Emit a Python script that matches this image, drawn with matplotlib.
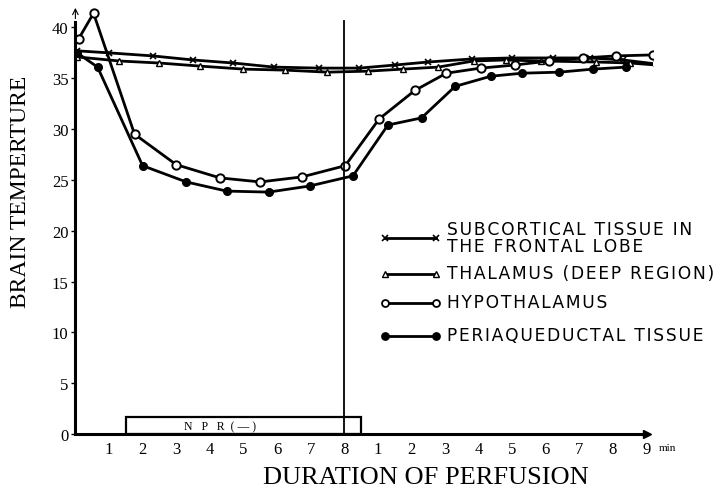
import matplotlib
matplotlib.use('Agg')
import matplotlib.pyplot as plt

# minutes on a continuous axis: 0-8 during perfusion, 9-17 = 1-9 min after
subcort_x = [0.05, 1.0, 2.3, 3.5, 4.7, 5.9, 7.25, 8.45, 9.5, 10.5, 11.8, 13.0, 14.2, 15.3, 16.3, 17.3]
subcort_y = [37.7, 37.5, 37.2, 36.8, 36.5, 36.1, 36.0, 36.0, 36.3, 36.6, 36.9, 37.0, 37.0, 37.0, 36.8, 36.4]

thal_x = [0.05, 1.3, 2.5, 3.7, 5.0, 6.25, 7.5, 8.7, 9.75, 10.8, 11.85, 12.8, 13.85, 15.5, 16.5, 17.3]
thal_y = [37.1, 36.7, 36.5, 36.2, 35.9, 35.8, 35.6, 35.7, 35.9, 36.1, 36.7, 36.8, 36.7, 36.6, 36.5, 36.3]

hypo_x = [0.1, 0.54, 1.76, 3.0, 4.3, 5.5, 6.75, 8.03, 9.04, 10.1, 11.04, 12.06, 13.07, 14.1, 15.1, 16.1, 17.2]
hypo_y = [38.9, 41.4, 29.5, 26.5, 25.2, 24.8, 25.3, 26.4, 31.0, 33.8, 35.5, 36.0, 36.3, 36.7, 37.0, 37.2, 37.3]

peri_x = [0.05, 0.66, 2.0, 3.3, 4.5, 5.75, 6.97, 8.26, 9.3, 10.3, 11.3, 12.36, 13.3, 14.4, 15.4, 16.4]
peri_y = [37.5, 36.1, 26.4, 24.8, 23.9, 23.8, 24.4, 25.4, 30.4, 31.1, 34.2, 35.2, 35.5, 35.6, 35.9, 36.1]

xtick_pos = list(range(1, 18))
xtick_labels = ['1', '2', '3', '4', '5', '6', '7', '8', '1', '2', '3', '4', '5', '6', '7', '8', '9']
ytick_pos = [0, 5, 10, 15, 20, 25, 30, 35, 40]

legend_labels = ['SUBCORTICAL TISSUE IN\nTHE FRONTAL LOBE', 'THALAMUS (DEEP REGION)',
                 'HYPOTHALAMUS', 'PERIAQUEDUCTAL TISSUE']


def spaced(s):
    # the legend lettering in the figure is widely tracked
    return '\n'.join('\u200a'.join(line) for line in s.split('\n'))


fig = plt.figure(figsize=(7.18, 4.89), dpi=100)
ax = fig.add_axes([0.105, 0.1104, 0.805, 0.873])
ax.set_xlim(0, 17.2)
ax.set_ylim(0, 42)

lw = 2.0
ax.plot(subcort_x, subcort_y, color='black', lw=lw, marker='x', ms=4, mew=1.2)
ax.plot(thal_x, thal_y, color='black', lw=lw, marker='^', ms=4, mfc='white', mew=1.0)
ax.plot(hypo_x, hypo_y, color='black', lw=lw, marker='o', ms=6, mfc='white', mew=1.4)
ax.plot(peri_x, peri_y, color='black', lw=lw, marker='o', ms=5.5, mfc='black')

# end of perfusion line and NPR(-) box
ax.axvline(8, ymax=40.6 / 42, color='black', lw=1.3)
ax.add_patch(plt.Rectangle((1.5, 0), 7.0, 1.7, fill=False, ec='black', lw=1.6))
ax.text(4.3, 0.75, 'N   P   R  ( — )', ha='center', va='center', fontsize=8.5,
        family='Liberation Serif')

for s in ['top', 'right']:
    ax.spines[s].set_visible(False)
ax.spines['left'].set_linewidth(2.2)
ax.spines['bottom'].set_linewidth(2.2)
ax.spines['left'].set_bounds(0, 40.5)
ax.spines['bottom'].set_bounds(0, 17)
ax.plot(17.0, 0, marker='>', color='black', ms=6, clip_on=False)
ax.annotate('', xy=(0, 42.2), xytext=(0, 40.6),
            arrowprops=dict(arrowstyle='->', lw=0.8, color='black'), annotation_clip=False)

ax.set_xticks(xtick_pos)
ax.set_xticklabels(xtick_labels, family='Liberation Serif', fontsize=12)
ax.set_yticks(ytick_pos)
ax.set_yticklabels([str(v) for v in ytick_pos], family='Liberation Serif', fontsize=12)
ax.tick_params(axis='x', length=0, pad=5)
ax.tick_params(axis='y', length=3, width=1, pad=2)
ax.text(17.35, -0.9, 'min', ha='left', va='top', fontsize=8, family='Liberation Serif')

ax.set_ylabel('BRAIN TEMPERTURE', family='Liberation Serif', fontsize=17)
ax.yaxis.set_label_coords(-0.077, 0.57)
ax.set_xlabel('DURATION OF PERFUSION', family='Liberation Serif', fontsize=19)
ax.xaxis.set_label_coords(0.606, -0.075)

# hand-drawn style legend
leg_y = [0.458, 0.376, 0.3075, 0.230]
mk = [dict(marker='x', ms=4, mew=1.2, mfc='black'),
      dict(marker='^', ms=4, mew=1.0, mfc='white'),
      dict(marker='o', ms=5, mew=1.3, mfc='white'),
      dict(marker='o', ms=5, mew=1.3, mfc='black')]
for yy, lab, m in zip(leg_y, legend_labels, mk):
    ax.plot([0.535, 0.624], [yy, yy], transform=ax.transAxes, color='black', lw=2,
            clip_on=False, **m)
    ax.text(0.643, yy + 0.002, spaced(lab), transform=ax.transAxes,
            ha='left', va='center', fontsize=12.3, family='DejaVu Sans',
            linespacing=0.95)

fig.savefig('out.png', dpi=100)
